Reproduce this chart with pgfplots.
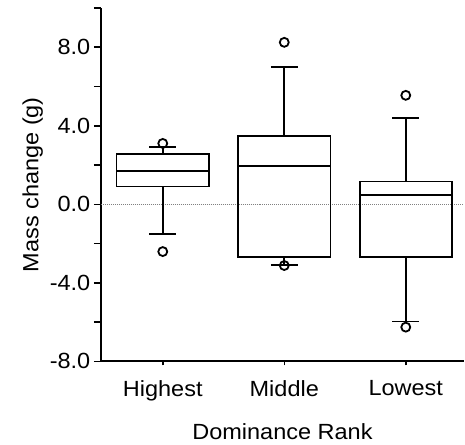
\documentclass[border=0pt]{standalone}
\usepackage{fontspec}
\setmainfont{Liberation Sans}[FakeStretch=1.07]
\usepackage{pgfplots}
\pgfplotsset{compat=1.18}
\usepgfplotslibrary{statistics}
\begin{document}
\begin{tikzpicture}
\begin{axis}[
    scale only axis, width=364pt, height=354pt,
    xmin=-0.51, xmax=2.48, ymin=-8, ymax=10,
    axis x line*=bottom, axis y line*=left,
    axis line style={line width=1.8pt, -},
    tick align=outside, tick style={black, line width=1.5pt},
    major tick length=7pt, minor tick length=7pt,
    xtick={0,1,2}, xticklabels={Highest,Middle,Lowest},
    xtick style={/pgfplots/major tick length=4pt},
    ytick={-8,-4,0,4,8}, minor ytick={-6,-2,2,6,10},
    yticklabel style={/pgf/number format/.cd, fixed, fixed zerofill, precision=1},
    /pgf/number format/assume math mode=true,
    every tick label/.append style={font=\fontsize{22}{26}\selectfont},
    xticklabel style={yshift=-9pt},
    label style={font=\fontsize{22}{26}\selectfont},
    xlabel style={yshift=-16pt},
    xlabel={Dominance Rank}, ylabel={Mass change (g)},
    boxplot/draw direction=y,
    boxplot/box extend=0.76, boxplot/whisker extend=0.22,
]
\addplot[gray, densely dotted, line width=1pt] coordinates {(-0.51,0) (2.48,0)};
\addplot[black, line width=1.8pt, boxplot prepared={draw position=0,
    lower whisker=-1.52, lower quartile=0.91, median=1.71,
    upper quartile=2.57, upper whisker=2.90}] coordinates {};
\addplot[black, line width=1.8pt, boxplot prepared={draw position=1,
    lower whisker=-3.09, lower quartile=-2.70, median=1.96,
    upper quartile=3.49, upper whisker=6.99}] coordinates {};
\addplot[black, line width=1.8pt, boxplot prepared={draw position=2,
    lower whisker=-5.97, lower quartile=-2.70, median=0.47,
    upper quartile=1.16, upper whisker=4.39}] coordinates {};
% outliers
\addplot[only marks, mark=o, mark size=4.5pt, line width=1.8pt, black]
    coordinates {(0,3.10) (0,-2.41) (1,8.25) (1,-3.12) (2,5.55) (2,-6.26)};
\end{axis}
\path ([shift={(-101pt,-83pt)}]current axis.south west)
    rectangle ([shift={(0pt,8pt)}]current axis.north east);
\end{tikzpicture}
\end{document}
